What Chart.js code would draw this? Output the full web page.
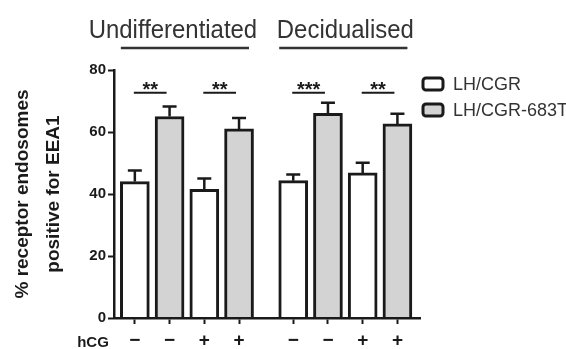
<!DOCTYPE html>
<html>
<head>
<meta charset="utf-8">
<script src="https://cdn.jsdelivr.net/npm/chart.js@4.4.1/dist/chart.umd.min.js"></script>
<style>
  html, body { margin: 0; padding: 0; background: #fff; }
  #Wrap { width: 566px; height: 349px; }
</style>
</head>
<body>
<div id="Wrap"><canvas id="EeaChart" width="566" height="349"></canvas></div>
<script>
const groupNames = ["Undifferentiated", "Decidualised"];
const hcgLabels = ["−", "−", "+", "+", "−", "−", "+", "+"];
const seriesNames = ["LH/CGR", "LH/CGR-683T"];
const wildTypeMeans = [44, 41.5, 44.3, 46.8];
const wildTypeErrors = [3.6, 3.5, 2.0, 3.3];
const mutantMeans = [65, 61, 66, 62.6];
const mutantErrors = [3.2, 3.5, 3.4, 3.3];
const significance = ["**", "**", "***", "**"];
const yTicks = [0, 20, 40, 60, 80];

const FONT = "'Liberation Sans', Arial, sans-serif";
const INK = "#1a1a1a";

// each pair = one hCG condition, two pairs per group, small gap between groups
function barPosition(pairIndex, seriesIndex) {
  const group = Math.floor(pairIndex / 2);
  const condition = pairIndex % 2;
  return group * 4.56 + condition * 2 + seriesIndex;
}

const tickPositions = [];
wildTypeMeans.forEach((_, i) => {
  tickPositions.push(barPosition(i, 0), barPosition(i, 1));
});

const annotations = {
  id: "annotations",
  afterDatasetsDraw(chart) {
    const { ctx } = chart;
    const y = chart.scales.y;
    const white = chart.getDatasetMeta(0).data;
    const grey = chart.getDatasetMeta(1).data;

    ctx.save();
    ctx.strokeStyle = INK;
    ctx.lineWidth = 2.5;
    ctx.lineCap = "butt";

    // upper error bars
    [
      [white, wildTypeMeans, wildTypeErrors],
      [grey, mutantMeans, mutantErrors],
    ].forEach(([bars, means, errors]) => {
      bars.forEach((bar, i) => {
        const top = y.getPixelForValue(means[i] + errors[i]);
        ctx.beginPath();
        ctx.moveTo(bar.x, bar.y);
        ctx.lineTo(bar.x, top);
        ctx.moveTo(bar.x - 7, top);
        ctx.lineTo(bar.x + 7, top);
        ctx.stroke();
      });
    });

    // significance lines and stars
    const lineY = y.getPixelForValue(72.7);
    ctx.lineWidth = 2;
    ctx.fillStyle = INK;
    ctx.font = "bold 20px " + FONT;
    ctx.textAlign = "center";
    ctx.textBaseline = "alphabetic";
    significance.forEach((stars, i) => {
      const x1 = white[i].x - 1;
      const x2 = grey[i].x - 3;
      ctx.beginPath();
      ctx.moveTo(x1, lineY);
      ctx.lineTo(x2, lineY);
      ctx.stroke();
      ctx.fillText(stars, (x1 + x2) / 2, lineY + 3);
    });

    // group titles with underline
    const titleShift = [-14, 0];
    groupNames.forEach((name, g) => {
      const first = white[g * 2].x;
      const last = grey[g * 2 + 1].x;
      ctx.lineWidth = 2.5;
      ctx.strokeStyle = "#333";
      ctx.beginPath();
      ctx.moveTo(first - 14, 48);
      ctx.lineTo(last + 10, 48);
      ctx.stroke();

      ctx.save();
      ctx.translate((first + last) / 2 + titleShift[g], 38);
      ctx.scale(0.92, 1);
      ctx.font = "26px " + FONT;
      ctx.fillStyle = "#333";
      ctx.textAlign = "center";
      ctx.fillText(name, 0, 0);
      ctx.restore();
    });

    // hCG row label
    ctx.font = "bold 15px " + FONT;
    ctx.fillStyle = INK;
    ctx.textAlign = "center";
    ctx.textBaseline = "middle";
    ctx.fillText("hCG", 93, 343);

    // legend
    chart.data.datasets.forEach((ds, i) => {
      const top = 78 + i * 26;
      ctx.beginPath();
      ctx.roundRect(423, top, 20, 12, 3);
      ctx.fillStyle = ds.backgroundColor;
      ctx.fill();
      ctx.lineWidth = 3;
      ctx.strokeStyle = INK;
      ctx.stroke();
      ctx.font = "18px " + FONT;
      ctx.fillStyle = "#333";
      ctx.textAlign = "left";
      ctx.textBaseline = "middle";
      ctx.fillText(ds.label, 453, top + 7);
    });

    ctx.restore();
  },
};

new Chart(document.querySelector("#EeaChart"), {
  type: "bar",
  data: {
    datasets: [
      {
        label: seriesNames[0],
        data: wildTypeMeans.map((v, i) => ({ x: barPosition(i, 0), y: v })),
        backgroundColor: "#ffffff",
      },
      {
        label: seriesNames[1],
        data: mutantMeans.map((v, i) => ({ x: barPosition(i, 1), y: v })),
        backgroundColor: "#d3d3d3",
      },
    ],
  },
  options: {
    responsive: false,
    animation: false,
    devicePixelRatio: 1,
    layout: { padding: { top: 70, right: 146, left: 0, bottom: 0 } },
    datasets: {
      bar: {
        grouped: false,
        barThickness: 29,
        borderWidth: 3,
        borderColor: INK,
        borderSkipped: "start",
      },
    },
    plugins: {
      legend: { display: false },
      tooltip: { enabled: false },
    },
    scales: {
      x: {
        type: "linear",
        min: -0.6,
        max: 8.21,
        offset: false,
        afterFit(scale) {
          scale.height = 31;
        },
        afterBuildTicks(scale) {
          scale.ticks = tickPositions.map((value) => ({ value }));
        },
        grid: {
          offset: false,
          drawOnChartArea: false,
          tickLength: 6,
          tickWidth: 2,
          tickColor: INK,
        },
        border: { color: INK, width: 2.5, z: 1 },
        ticks: {
          autoSkip: false,
          maxRotation: 0,
          padding: 5,
          color: INK,
          font: { family: FONT, size: 19, weight: "bold" },
          callback: (value, index) => hcgLabels[index],
        },
      },
      y: {
        min: 0,
        max: 80,
        afterFit(scale) {
          scale.width = 114;
        },
        afterBuildTicks(scale) {
          scale.ticks = yTicks.map((value) => ({ value }));
        },
        grid: {
          drawOnChartArea: false,
          tickLength: 6,
          tickWidth: 2,
          tickColor: INK,
        },
        border: { color: INK, width: 2.5, z: 1 },
        ticks: {
          padding: 2,
          color: INK,
          font: { family: FONT, size: 15, weight: "bold" },
        },
        title: {
          display: true,
          text: ["% receptor endosomes", "positive for EEA1"],
          color: INK,
          font: { family: FONT, size: 19, weight: "bold", lineHeight: "31px" },
          padding: { top: 7.5, bottom: 0 },
        },
      },
    },
  },
  plugins: [annotations],
});
</script>
</body>
</html>
